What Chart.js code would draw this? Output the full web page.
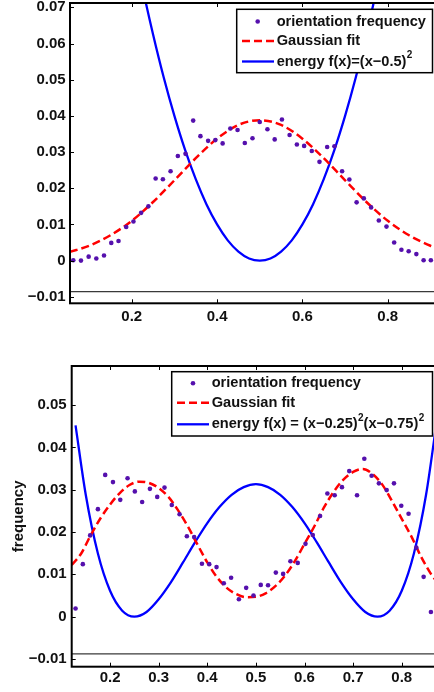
<!DOCTYPE html>
<html>
<head>
<meta charset="utf-8">
<script src="https://cdn.jsdelivr.net/npm/chart.js@4.4.1/dist/chart.umd.min.js"></script>
<style>
  html, body { margin: 0; padding: 0; background: #fff; overflow: hidden; width: 434px; height: 692px; }
  canvas { position: absolute; left: 0; }
  #topChart { top: 0; }
  #bottomChart { top: 335px; }
</style>
</head>
<body>
<canvas id="topChart" width="440" height="335"></canvas>
<canvas id="bottomChart" width="440" height="357"></canvas>
<script>
// ---- top panel: energy (x-0.5)^2 ----
var topBinX = [0.063, 0.081, 0.099, 0.117, 0.135, 0.152, 0.169, 0.187, 0.204, 0.222, 0.239, 0.256, 0.273,
  0.291, 0.308, 0.326, 0.344, 0.361, 0.379, 0.396, 0.413, 0.431, 0.448, 0.465, 0.483, 0.500, 0.518, 0.535,
  0.552, 0.570, 0.587, 0.604, 0.622, 0.640, 0.658, 0.675, 0.693, 0.710, 0.727, 0.744, 0.761, 0.779, 0.797,
  0.815, 0.832, 0.849, 0.867, 0.884, 0.901];
var topFreq = [0.0001, 0.0000, 0.0011, 0.0006, 0.0014, 0.0049, 0.0054, 0.0093, 0.0108, 0.0132, 0.0150, 0.0227, 0.0225,
  0.0247, 0.0289, 0.0295, 0.0387, 0.0344, 0.0331, 0.0333, 0.0324, 0.0365, 0.0361, 0.0325, 0.0338, 0.0383, 0.0363, 0.0335,
  0.0390, 0.0347, 0.0321, 0.0317, 0.0303, 0.0273, 0.0314, 0.0316, 0.0247, 0.0224, 0.0161, 0.0172, 0.0147, 0.0111, 0.0094,
  0.0050, 0.0030, 0.0026, 0.0018, 0.0001, 0.0001];
var topFitX = [0.055, 0.10, 0.15, 0.20, 0.25, 0.30, 0.35, 0.40, 0.45, 0.50, 0.55, 0.60, 0.65, 0.70, 0.75, 0.80, 0.85, 0.90, 0.915];
var topFit = [0.0024, 0.0041, 0.0070, 0.0110, 0.0162, 0.0222, 0.0283, 0.0337, 0.0375, 0.0388, 0.0375, 0.0337, 0.0283,
  0.0222, 0.0162, 0.0110, 0.0070, 0.0041, 0.0035];
var topEnergyX = [0.200, 0.225, 0.250, 0.275, 0.300, 0.325, 0.350, 0.375, 0.400, 0.425, 0.450, 0.475, 0.500,
  0.525, 0.550, 0.575, 0.600, 0.625, 0.650, 0.675, 0.700, 0.725, 0.750, 0.775, 0.800];
var topEnergy = [0.0900, 0.0756, 0.0625, 0.0506, 0.0400, 0.0306, 0.0225, 0.0156, 0.0100, 0.0056, 0.0025, 0.0006, 0.0000,
  0.0006, 0.0025, 0.0056, 0.0100, 0.0156, 0.0225, 0.0306, 0.0400, 0.0506, 0.0625, 0.0756, 0.0900];
var topXTicks = [0.2, 0.4, 0.6, 0.8];
var topYTicks = [-0.01, 0, 0.01, 0.02, 0.03, 0.04, 0.05, 0.06, 0.07];
var topRangeX = [0.0553, 0.9154];
var topRangeY = [-0.0118, 0.0712];
var topBase = -0.0086;
var topLabels = ['orientation frequency', 'Gaussian fit', 'energy f(x)=(x\u22120.5)\u00b2'];

// ---- bottom panel: energy (x-0.25)^2 (x-0.75)^2 ----
var botBinX = [0.129, 0.144, 0.159, 0.175, 0.190, 0.206, 0.221, 0.236, 0.251, 0.266, 0.282, 0.297, 0.312,
  0.327, 0.343, 0.358, 0.373, 0.389, 0.404, 0.419, 0.434, 0.449, 0.465, 0.480, 0.495, 0.510, 0.525, 0.541,
  0.556, 0.571, 0.586, 0.602, 0.617, 0.632, 0.647, 0.662, 0.677, 0.692, 0.708, 0.723, 0.738, 0.753, 0.769,
  0.784, 0.799, 0.814, 0.830, 0.845, 0.860];
var botFreq = [0.0019, 0.0124, 0.0192, 0.0254, 0.0335, 0.0318, 0.0276, 0.0327, 0.0296, 0.0271, 0.0302, 0.0283, 0.0305,
  0.0264, 0.0242, 0.0190, 0.0188, 0.0125, 0.0124, 0.0117, 0.0079, 0.0092, 0.0041, 0.0068, 0.0050, 0.0075, 0.0074, 0.0104,
  0.0101, 0.0131, 0.0127, 0.0172, 0.0193, 0.0238, 0.0291, 0.0287, 0.0306, 0.0344, 0.0287, 0.0373, 0.0333, 0.0315, 0.0299,
  0.0315, 0.0262, 0.0243, 0.0163, 0.0094, 0.0011];
var botFitX = [0.121, 0.14, 0.16, 0.18, 0.20, 0.22, 0.24, 0.26, 0.28, 0.30, 0.32, 0.34, 0.36, 0.38, 0.40, 0.42, 0.44,
  0.46, 0.48, 0.50, 0.52, 0.54, 0.56, 0.58, 0.60, 0.62, 0.64, 0.66, 0.68, 0.70, 0.72, 0.74, 0.76, 0.78, 0.80, 0.82,
  0.84, 0.86, 0.875];
var botFit = [0.0122, 0.0148, 0.0192, 0.0232, 0.0265, 0.0292, 0.0311, 0.0319, 0.0316, 0.0304, 0.0283, 0.0251, 0.0213,
  0.0170, 0.0128, 0.0093, 0.0068, 0.0053, 0.0046, 0.0047, 0.0055, 0.0072, 0.0097, 0.0131, 0.0172, 0.0213, 0.0258,
  0.0295, 0.0324, 0.0342, 0.0349, 0.0337, 0.0312, 0.0273, 0.0231, 0.0189, 0.0141, 0.0101, 0.0078];
var botEnergyX = [0.129, 0.150, 0.175, 0.200, 0.225, 0.250, 0.275, 0.300, 0.325, 0.350, 0.375, 0.400, 0.425, 0.450,
  0.475, 0.500, 0.525, 0.550, 0.575, 0.600, 0.625, 0.650, 0.675, 0.700, 0.725, 0.750, 0.775, 0.800, 0.825, 0.850, 0.875];
var botEnergy = [0.0452, 0.0288, 0.0149, 0.0061, 0.0014, 0.0000, 0.0011, 0.0041, 0.0081, 0.0128, 0.0176, 0.0221,
  0.0259, 0.0288, 0.0306, 0.0313, 0.0306, 0.0288, 0.0259, 0.0221, 0.0176, 0.0128, 0.0081, 0.0041, 0.0011, 0.0000,
  0.0014, 0.0061, 0.0149, 0.0288, 0.0488];
var botXTicks = [0.2, 0.3, 0.4, 0.5, 0.6, 0.7, 0.8];
var botYTicks = [-0.01, 0, 0.01, 0.02, 0.03, 0.04, 0.05];
var botRangeX = [0.1211, 0.8725];
var botRangeY = [-0.01184, 0.05924];
var botBase = -0.0088;
var botLabels = ['orientation frequency', 'Gaussian fit', 'energy f(x) = (x\u22120.25)\u00b2(x\u22120.75)\u00b2'];

var FONT = '"Liberation Sans", Arial, Helvetica, sans-serif';
var INK = '#111';
Chart.defaults.font.family = FONT;
Chart.defaults.color = INK;

function pts(xs, ys) {
  return xs.map(function (x, i) { return { x: x, y: ys[i] }; });
}

function yLabel(v) {
  if (Math.abs(v) < 1e-9) return '0';
  return (v < 0 ? '\u2212' : '') + Math.abs(v).toFixed(2);
}

// axes box with inward tick marks, MATLAB style
var frame = {
  id: 'frame',
  afterDatasetsDraw: function (chart) {
    var ctx = chart.ctx, a = chart.chartArea, x = chart.scales.x, y = chart.scales.y;
    ctx.save();
    ctx.strokeStyle = '#000';
    ctx.lineWidth = 1;
    ctx.beginPath();
    x.ticks.forEach(function (t) {
      var px = Math.round(x.getPixelForValue(t.value)) + 0.5;
      ctx.moveTo(px, a.bottom); ctx.lineTo(px, a.bottom - 4);
      ctx.moveTo(px, a.top); ctx.lineTo(px, a.top + 4);
    });
    y.ticks.forEach(function (t) {
      var py = Math.round(y.getPixelForValue(t.value)) + 0.5;
      ctx.moveTo(a.left, py); ctx.lineTo(a.left + 4, py);
    });
    ctx.stroke();
    ctx.lineWidth = 2;
    ctx.strokeRect(a.left, a.top, a.right - a.left, a.bottom - a.top);
    ctx.restore();
  }
};

// draws text, turning each "²" into a raised small 2
function drawLabel(ctx, text, x, y) {
  var parts = text.split('\u00b2');
  parts.forEach(function (p, i) {
    ctx.font = 'bold 14.6px ' + FONT;
    ctx.fillText(p, x, y);
    x += ctx.measureText(p).width;
    if (i < parts.length - 1) {
      ctx.font = 'bold 10px ' + FONT;
      ctx.fillText('2', x + 0.3, y - 6);
      x += ctx.measureText('2').width + 0.3;
    }
  });
}

var boxLegend = {
  id: 'boxLegend',
  afterDraw: function (chart, args, o) {
    var ctx = chart.ctx;
    ctx.save();
    ctx.fillStyle = '#fff';
    ctx.fillRect(o.left, o.top, o.right - o.left, o.bottom - o.top);
    ctx.strokeStyle = '#000';
    ctx.lineWidth = 1.5;
    ctx.strokeRect(o.left, o.top, o.right - o.left, o.bottom - o.top);
    chart.data.datasets.forEach(function (ds, i) {
      if (!ds.label) return;
      var yy = o.rowY[i];
      if (ds.showLine === false) {
        ctx.fillStyle = ds.pointBackgroundColor;
        ctx.beginPath();
        ctx.arc(o.markerX, yy, ds.pointRadius, 0, Math.PI * 2);
        ctx.fill();
      } else {
        ctx.strokeStyle = ds.borderColor;
        ctx.lineWidth = ds.borderWidth;
        ctx.setLineDash(ds.borderDash || []);
        ctx.beginPath();
        ctx.moveTo(o.lineX0, yy);
        ctx.lineTo(o.lineX1, yy);
        ctx.stroke();
        ctx.setLineDash([]);
      }
      ctx.fillStyle = INK;
      ctx.textAlign = 'left';
      ctx.textBaseline = 'middle';
      drawLabel(ctx, ds.label, o.textX, yy);
    });
    ctx.restore();
  }
};

function makePanel(id, p) {
  var datasets = [
    { label: p.labels[0], data: pts(p.binX, p.freq), showLine: false, pointRadius: 2.3,
      pointBackgroundColor: '#5510ad', pointBorderWidth: 0, pointHoverRadius: 2.3 },
    { label: p.labels[1], data: pts(p.fitX, p.fit), borderColor: '#ff0000', borderWidth: 2.5,
      borderDash: [8, 4], pointRadius: 0, cubicInterpolationMode: 'monotone' },
    { label: p.labels[2], data: pts(p.enX, p.en), borderColor: '#0000ff', borderWidth: 2.3,
      pointRadius: 0, cubicInterpolationMode: 'monotone' },
    { label: '', data: [{ x: p.rangeX[0], y: p.base }, { x: p.rangeX[1], y: p.base }],
      borderColor: '#3a3a3a', borderWidth: 1.2, pointRadius: 0 }
  ];
  return new Chart(document.getElementById(id), {
    type: 'line',
    data: { datasets: datasets },
    plugins: [frame, boxLegend],
    options: {
      responsive: false,
      animation: false,
      layout: { padding: p.pad },
      plugins: { legend: { display: false }, tooltip: { enabled: false }, boxLegend: p.legend },
      scales: {
        x: {
          type: 'linear', min: p.rangeX[0], max: p.rangeX[1],
          grid: { display: false, drawTicks: false }, border: { display: false },
          afterBuildTicks: function (s) { s.ticks = p.xTicks.map(function (v) { return { value: v }; }); },
          ticks: { padding: p.xPad, font: { size: 15, weight: 'bold' }, color: INK, maxRotation: 0,
            callback: function (v) { return v.toFixed(1); } },
          afterFit: function (s) { s.height = p.xHeight; s.paddingLeft = s.paddingRight = 0; }
        },
        y: {
          min: p.rangeY[0], max: p.rangeY[1],
          grid: { display: false, drawTicks: false }, border: { display: false },
          afterBuildTicks: function (s) { s.ticks = p.yTicks.map(function (v) { return { value: v }; }); },
          ticks: { padding: p.yPad, font: { size: 15, weight: 'bold' }, color: INK, callback: yLabel },
          title: { display: !!p.yTitle, text: p.yTitle || '', color: INK,
            font: { size: 15, weight: 'bold' }, padding: { top: 10, bottom: 0 } },
          afterFit: function (s) { s.width = p.yWidth; s.paddingTop = s.paddingBottom = 0; }
        }
      }
    }
  });
}

makePanel('topChart', {
  binX: topBinX, freq: topFreq, fitX: topFitX, fit: topFit, enX: topEnergyX, en: topEnergy,
  labels: topLabels, rangeX: topRangeX, rangeY: topRangeY, base: topBase,
  xTicks: topXTicks, yTicks: topYTicks,
  pad: { top: 3, right: 3, left: 0, bottom: 0 }, xHeight: 31.7, yWidth: 70, xPad: 4.4, yPad: 4.3,
  legend: { left: 236.7, top: 9.3, right: 432.5, bottom: 72.7, rowY: [21.5, 41, 61.5],
    markerX: 257.7, lineX0: 242, lineX1: 274, textX: 276.7 }
});

makePanel('bottomChart', {
  binX: botBinX, freq: botFreq, fitX: botFitX, fit: botFit, enX: botEnergyX, en: botEnergy,
  labels: botLabels, rangeX: botRangeX, rangeY: botRangeY, base: botBase,
  xTicks: botXTicks, yTicks: botYTicks, yTitle: 'frequency',
  pad: { top: 31, right: 3, left: 0, bottom: 0 }, xHeight: 25.3, yWidth: 71.7, xPad: 2.6, yPad: 5,
  legend: { left: 171.7, top: 36.7, right: 432.5, bottom: 101, rowY: [48.3, 67.7, 89.3],
    markerX: 193, lineX0: 177, lineX1: 209, textX: 211.7 }
});
</script>
</body>
</html>
